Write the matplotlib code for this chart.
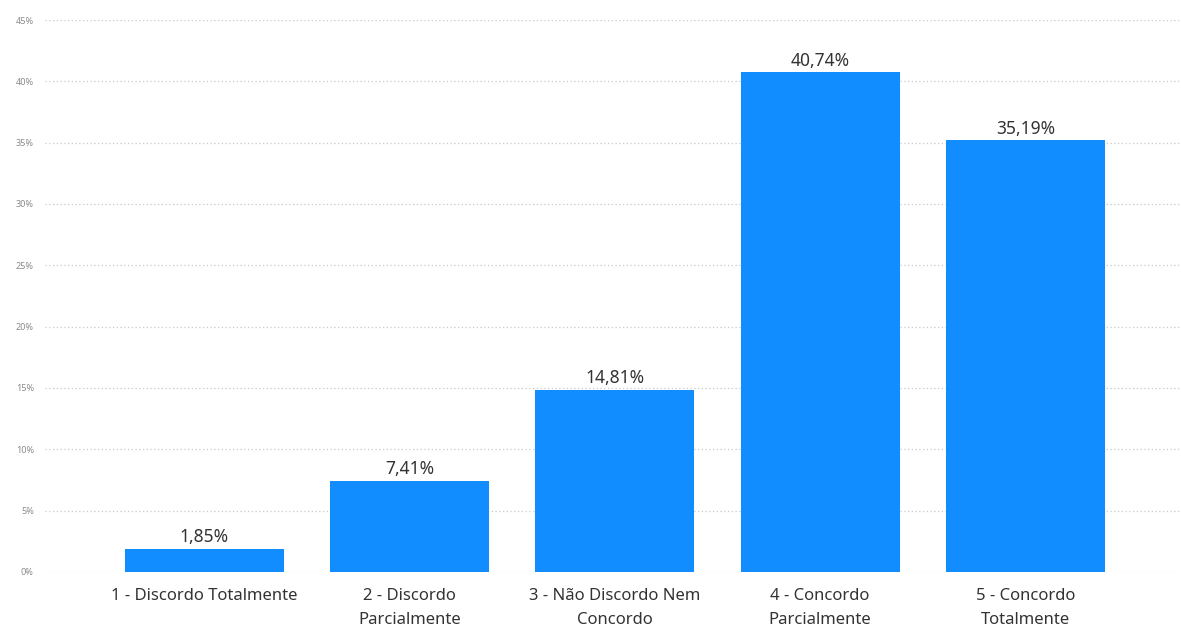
import numpy as np
import matplotlib
matplotlib.use('Agg')
import matplotlib.pyplot as plt

categories = ["1 - Discordo Totalmente", "2 - Discordo\nParcialmente",
              "3 - Não Discordo Nem\nConcordo", "4 - Concordo\nParcialmente",
              "5 - Concordo\nTotalmente"]
shares = [1.85, 7.41, 14.81, 40.74, 35.19]
yticks = [0, 5, 10, 15, 20, 25, 30, 35, 40, 45]

plt.rcParams['font.family'] = ['Noto Sans', 'DejaVu Sans']

fig = plt.figure(figsize=(11.81, 6.27), dpi=100)
ax = fig.add_axes([0.038, 0.088, 0.962, 0.880])

x = np.arange(len(categories))
bars = ax.bar(x, shares, width=0.775, color='#118DFF', zorder=3)

for b, v in zip(bars, shares):
    label = "{:.2f}%".format(v).replace('.', ',')
    ax.annotate(label, (b.get_x() + b.get_width() / 2, v), xytext=(0, 2),
                textcoords='offset points', ha='center', va='bottom',
                fontsize=12.5, color='#333333')

ax.set_xlim(-0.777, 4.758)
ax.set_ylim(0, 45)
ax.set_yticks(yticks)
ax.set_yticklabels(["{}%".format(t) for t in yticks], fontsize=6.5, color='#8a8a8a')
ax.set_xticks(x)
ax.set_xticklabels(categories, fontsize=12, color='#333333', linespacing=1.65)
ax.tick_params(axis='both', length=0)
ax.tick_params(axis='x', pad=12)
ax.tick_params(axis='y', pad=8)

ax.grid(axis='y', color='#c8c8c8', linestyle=(0, (1, 2)), linewidth=0.9, zorder=0)
for s in ax.spines.values():
    s.set_visible(False)

fig.savefig('out.png', dpi=100)
